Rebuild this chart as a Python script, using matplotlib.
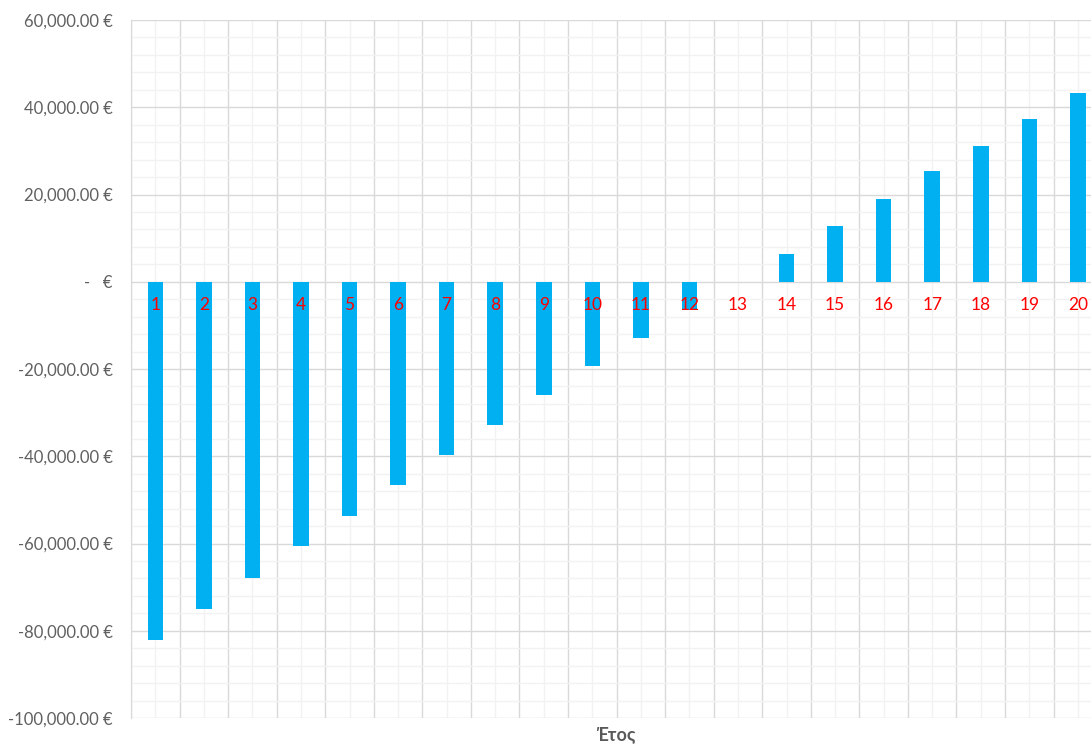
import matplotlib
matplotlib.use("Agg")
import matplotlib.pyplot as plt
import numpy as np
from matplotlib.ticker import FuncFormatter, MultipleLocator

plt.rcParams['font.family'] = ['Lato', 'DejaVu Sans']

# Cumulative cash position per year [EUR].
years = list(range(1, 21))
balance = [-82000, -75000, -67900, -60500, -53600, -46500, -39700, -32800,
           -25900, -19300, -12900, -6400, 0, 6400, 12800, 19000, 25400,
           31200, 37400, 43300]
year_labels = [str(y) for y in years]

fig = plt.figure(figsize=(10.91, 7.44), dpi=100)
ax = fig.add_axes([0.1201, 0.0349, 0.8799, 0.9382])

ax.bar(years, balance, width=0.32, color='#00b0f0', linewidth=0, zorder=3)

# Gridlines: major between categories / every 20k, minor at centres / every 4k.
ax.set_xticks(np.arange(0.5, 21, 1.0))
ax.set_xticks(years, minor=True)
ax.yaxis.set_major_locator(MultipleLocator(20000))
ax.yaxis.set_minor_locator(MultipleLocator(4000))
ax.grid(which='major', color='#d9d9d9', linewidth=1.0, zorder=0)
ax.grid(which='minor', color='#f2f2f2', linewidth=1.0, zorder=0)
ax.set_axisbelow(True)

# the plot area runs a little past the right edge of the figure
ax.set_xlim(0.5, 20.27)
ax.set_ylim(-100000, 60000)


def euro(v, pos):
    if abs(v) < 1e-6:
        return '-   €'
    return f'{v:,.2f} €'


ax.yaxis.set_major_formatter(FuncFormatter(euro))
ax.tick_params(axis='y', which='both', length=0, pad=13, labelsize=12,
               labelcolor='#606060')
ax.tick_params(axis='x', which='both', length=0, labelbottom=False)

for s in ['top', 'right', 'bottom']:
    ax.spines[s].set_visible(False)
ax.spines['left'].set_color('#d9d9d9')

# Year labels sit just under the zero line, on top of the bars.
for x, lab in zip(years, year_labels):
    ax.annotate(lab, (x, 0), xytext=(0, -17), textcoords='offset points',
                ha='center', va='center', color='#ff0000', fontsize=12.5,
                zorder=5, annotation_clip=False)

ax.set_xlabel('Έτος', fontsize=13, fontweight='bold', color='#595959')
ax.xaxis.set_label_coords(0.505, -0.012)
ax.xaxis.label.set_va('top')

fig.savefig('out.png', dpi=100)
